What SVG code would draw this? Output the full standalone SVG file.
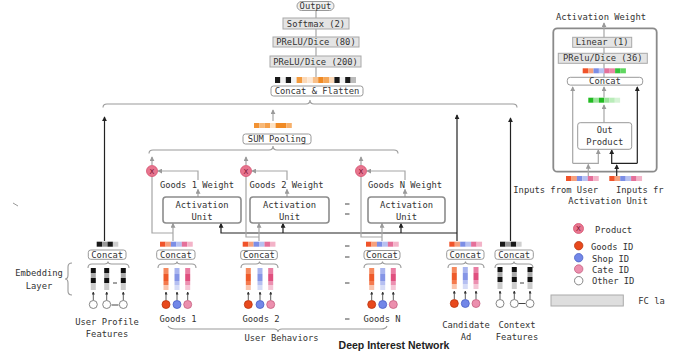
<svg xmlns="http://www.w3.org/2000/svg" width="689" height="352" viewBox="0 0 689 352">
<style>
.t{font-family:"DejaVu Sans Mono","Liberation Mono",monospace;font-size:8.8px;fill:#333}
.c{text-anchor:middle}
.fc{fill:#e4e4e4;stroke:#a8a8a8;stroke-width:1}
.cb{fill:#fff;stroke:#999;stroke-width:1}
.au{fill:#fff;stroke:#8c8c8c;stroke-width:1.6}
.g{fill:none;stroke:#a6a6a6;stroke-width:1.2}
.k{fill:none;stroke:#222;stroke-width:1.2}
.br{fill:none;stroke:#9a9a9a;stroke-width:1.1}
.tiny{stroke:#333;stroke-width:0.8}
.dash{stroke:#444;stroke-width:1}
.px{fill:#e8758f;stroke:#d4506f;stroke-width:0.8}
.xt{font-family:"DejaVu Sans",sans-serif;font-size:7px;fill:#7a1030;text-anchor:middle}
</style>
<defs>
<marker id="ag" viewBox="0 0 6 6" refX="5" refY="3" markerWidth="5" markerHeight="5" markerUnits="userSpaceOnUse" orient="auto"><path d="M0,0L6,3L0,6z" fill="#9a9a9a"/></marker>
<marker id="ab" viewBox="0 0 6 6" refX="5" refY="3" markerWidth="5" markerHeight="5" markerUnits="userSpaceOnUse" orient="auto"><path d="M0,0L6,3L0,6z" fill="#222"/></marker>
<marker id="at" viewBox="0 0 6 6" refX="5" refY="3" markerWidth="3" markerHeight="3" markerUnits="userSpaceOnUse" orient="auto"><path d="M0,0L6,3L0,6z" fill="#333"/></marker>
<g id="colO"><rect x="-2.5" y="0" width="5" height="6" fill="#f58a5f"/><rect x="-2.5" y="6" width="5" height="7" fill="#ee5a2a"/><rect x="-2.5" y="13" width="5" height="4" fill="#f47a4e"/><rect x="-2.5" y="17" width="5" height="5" fill="#fac4ad"/></g>
<g id="colB"><rect x="-2.5" y="0" width="5" height="6" fill="#a9b5ef"/><rect x="-2.5" y="6" width="5" height="7" fill="#8595e6"/><rect x="-2.5" y="13" width="5" height="4" fill="#b5bff1"/><rect x="-2.5" y="17" width="5" height="5" fill="#d6dcf7"/></g>
<g id="colP"><rect x="-2.5" y="0" width="5" height="6" fill="#ea7ea3"/><rect x="-2.5" y="6" width="5" height="7" fill="#e0507f"/><rect x="-2.5" y="13" width="5" height="4" fill="#ec8fb0"/><rect x="-2.5" y="17" width="5" height="5" fill="#f5c6d6"/></g>
<g id="colK"><rect x="-2.5" y="0" width="5" height="5" fill="#111"/><rect x="-2.5" y="5" width="5" height="5" fill="#aaa"/><rect x="-2.5" y="10" width="5" height="5" fill="#111"/><rect x="-2.5" y="15" width="5" height="7" fill="#ccc"/></g>
<g id="nO"><use href="#colO"/><line x1="0" y1="32.5" x2="0" y2="24" class="tiny" marker-end="url(#at)"/><circle cy="36.5" r="4" fill="#e8491d" stroke="#b8350f" stroke-width="0.8"/></g>
<g id="nB"><use href="#colB"/><line x1="0" y1="32.5" x2="0" y2="24" class="tiny" marker-end="url(#at)"/><circle cy="36.5" r="4" fill="#7287e8" stroke="#4a5fc4" stroke-width="0.8"/></g>
<g id="nP"><use href="#colP"/><line x1="0" y1="32.5" x2="0" y2="24" class="tiny" marker-end="url(#at)"/><circle cy="36.5" r="4" fill="#ec8fae" stroke="#c4607f" stroke-width="0.8"/></g>
<g id="nK"><use href="#colK"/><line x1="0" y1="32.5" x2="0" y2="24" class="tiny" marker-end="url(#at)"/><circle cy="36.5" r="4" fill="#fff" stroke="#777" stroke-width="0.9"/></g>
<g id="barG"><rect x="0" y="0" width="5.5" height="5" fill="#f0532a"/><rect x="5.45" y="0" width="5.5" height="5" fill="#f6a07c"/><rect x="10.9" y="0" width="5.5" height="5" fill="#7c8ee6"/><rect x="16.35" y="0" width="5.5" height="5" fill="#b7c1f1"/><rect x="21.8" y="0" width="5.5" height="5" fill="#e5709a"/><rect x="27.25" y="0" width="5.5" height="5" fill="#f3b3c8"/></g>
<g id="barK"><rect x="0" y="0" width="5.4" height="5" fill="#1a1a1a"/><rect x="5.4" y="0" width="5.4" height="5" fill="#9a9a9a"/><rect x="10.8" y="0" width="5.4" height="5" fill="#1a1a1a"/><rect x="16.2" y="0" width="5.4" height="5" fill="#cfcfcf"/></g>
</defs>
<rect width="689" height="352" fill="#fff"/>

<g id="connectors">
<line x1="316" y1="10" x2="316" y2="78" class="g"/>
<path class="br" d="M103,107.5Q103,104 107,104L306,104Q310,104 310,100Q310,104 314,104L513,104Q517,104 517,107.5"/>
<path class="br" d="M149,153.5Q149,150 153,150L269,150Q273,150 273,146Q273,150 277,150L394,150Q398,150 398,153.5"/>
<path class="g" d="M273,121V110" marker-end="url(#ag)"/>
<path class="k" d="M104.5,241V117" marker-end="url(#ab)"/>
<path class="k" d="M457,241V115" marker-end="url(#ab)"/>
<path class="k" d="M510.5,241V118" marker-end="url(#ab)"/>
<path class="k" d="M457,233H221V223.5" marker-end="url(#ab)"/>
<path class="k" d="M283,233V223.5" marker-end="url(#ab)"/>
<path class="k" d="M401,233V223.5" marker-end="url(#ab)"/>
<path class="g" d="M152,165V157" marker-end="url(#ag)"/>
<path class="g" d="M246,165V157" marker-end="url(#ag)"/>
<path class="g" d="M361,165V157" marker-end="url(#ag)"/>
<path class="g" d="M198,197V189.5" marker-end="url(#ag)"/>
<path class="g" d="M198,180V171H158" marker-end="url(#ag)"/>
<path class="g" d="M287,197V189.5" marker-end="url(#ag)"/>
<path class="g" d="M287,180V171H252" marker-end="url(#ag)"/>
<path class="g" d="M405,197V189.5" marker-end="url(#ag)"/>
<path class="g" d="M405,180V171H367" marker-end="url(#ag)"/>
<path class="g" d="M173,241V223.5" marker-end="url(#ag)"/>
<path class="g" d="M152,176V233H173"/>
<path class="g" d="M259,241V223.5" marker-end="url(#ag)"/>
<path class="g" d="M246,176V237H259"/>
<path class="g" d="M382,241V223.5" marker-end="url(#ag)"/>
<path class="g" d="M361,176V237H382"/>
<path class="br" d="M168,326Q170,329 175,329L274,329Q278,329 278,332Q278,329 282,329L381,329Q386,329 387,326"/>
<path class="br" d="M72,263Q68,263 68,267L68,275Q68,279 65,279Q68,279 68,283L68,291Q68,295 72,295"/>
<line x1="13" y1="203" x2="18" y2="206" stroke="#999" stroke-width="1"/>
</g>

<g id="output"><rect x="297" y="1.5" width="37" height="9" rx="4.5" fill="#efefef" stroke="#999"/><text class="t c" x="315.5" y="9">Output</text></g>
<g id="softmax"><rect x="283" y="18" width="66" height="11" class="fc"/><text class="t c" x="316" y="26.7">Softmax (2)</text></g>
<g id="prelu80"><rect x="273" y="37" width="86" height="10" class="fc"/><text class="t c" x="316" y="45.2">PReLU/Dice (80)</text></g>
<g id="prelu200"><rect x="270" y="56" width="91" height="11" class="fc"/><text class="t c" x="315.5" y="64.7">PReLU/Dice (200)</text></g>
<g id="concat-flatten">
<rect x="275" y="77" width="5.4" height="6" fill="#1a1a1a"/><rect x="280.4" y="77" width="5.4" height="6" fill="#f2f2f2"/><rect x="285.8" y="77" width="5.4" height="6" fill="#1a1a1a"/><rect x="291.2" y="77" width="5.4" height="6" fill="#f4f4f4"/><rect x="296.6" y="77" width="5.4" height="6" fill="#f39a3c"/><rect x="302" y="77" width="5.4" height="6" fill="#fbd9b8"/><rect x="307.4" y="77" width="5.4" height="6" fill="#fde8d4"/><rect x="312.8" y="77" width="5.4" height="6" fill="#f8c08a"/><rect x="318.2" y="77" width="5.4" height="6" fill="#f08a24"/><rect x="323.6" y="77" width="5.4" height="6" fill="#f5a85a"/><rect x="329" y="77" width="5.4" height="6" fill="#fbd9b8"/><rect x="334.4" y="77" width="5.4" height="6" fill="#1a1a1a"/><rect x="339.8" y="77" width="5.4" height="6" fill="#f2f2f2"/><rect x="345.2" y="77" width="5.4" height="6" fill="#1a1a1a"/><rect x="350.6" y="77" width="5.4" height="6" fill="#bbb"/>
<rect x="271" y="86" width="92" height="10" rx="2.5" class="cb"/><text class="t c" x="317" y="94.2">Concat &amp; Flatten</text></g>
<g id="sum-pooling">
<rect x="254" y="123" width="5.4" height="5" fill="#f29233"/><rect x="259.4" y="123" width="5.4" height="5" fill="#f7b877"/><rect x="264.8" y="123" width="5.4" height="5" fill="#f5a04a"/><rect x="270.2" y="123" width="5.4" height="5" fill="#fde2c4"/><rect x="275.6" y="123" width="5.4" height="5" fill="#f08a24"/><rect x="281" y="123" width="5.4" height="5" fill="#f08a24"/><rect x="286.4" y="123" width="5.4" height="5" fill="#f7b06a"/>
<rect x="243" y="134" width="68" height="10" rx="2.5" class="cb"/><text class="t c" x="277" y="142.2">SUM Pooling</text></g>

<g id="product1"><circle cx="152" cy="171" r="5.5" class="px"/><text class="xt" x="152" y="173.5">X</text></g>
<g id="product2"><circle cx="246" cy="171" r="5.5" class="px"/><text class="xt" x="246" y="173.5">X</text></g>
<g id="productN"><circle cx="361" cy="171" r="5.5" class="px"/><text class="xt" x="361" y="173.5">X</text></g>
<g id="weight-labels">
<text class="t c" x="197" y="188.2">Goods 1 Weight</text>
<text class="t c" x="286.5" y="188.2">Goods 2 Weight</text>
<text class="t c" x="405" y="188.2">Goods N Weight</text>
</g>
<g id="au1"><rect x="163" y="197" width="78" height="26" rx="3" class="au"/><text class="t c" x="202" y="208">Activation</text><text class="t c" x="202" y="220">Unit</text></g>
<g id="au2"><rect x="250" y="197" width="79" height="26" rx="3" class="au"/><text class="t c" x="289.5" y="208">Activation</text><text class="t c" x="289.5" y="220">Unit</text></g>
<g id="auN"><rect x="368" y="197" width="77" height="26" rx="3" class="au"/><text class="t c" x="406.5" y="208">Activation</text><text class="t c" x="406.5" y="220">Unit</text></g>

<g id="ellipsis">
<line x1="345" y1="204" x2="349.5" y2="204" class="dash"/><line x1="345" y1="214" x2="349.5" y2="214" class="dash"/>
<line x1="345" y1="246" x2="349.5" y2="246" class="dash"/><line x1="345" y1="257" x2="349.5" y2="257" class="dash"/>
<line x1="345" y1="283" x2="349.5" y2="283" class="dash"/><line x1="345" y1="319" x2="349.5" y2="319" class="dash"/>
</g>

<g id="emb-layer-label"><text class="t c" x="39" y="276">Embedding</text><text class="t c" x="39" y="288.5">Layer</text></g>

<g id="user-profile">
<use href="#barK" x="96.7" y="241.7"/>
<rect x="88.3" y="250" width="37.7" height="9.3" rx="2.5" class="cb"/><text class="t c" x="107.2" y="257.8">Concat</text>
<path class="br" d="M88,268Q88,264 92,264L104.5,264Q108,264 108,261.5Q108,264 111.5,264L125,264Q129,264 129,268"/>
<use href="#nK" x="93.3" y="268"/><use href="#nK" x="106.7" y="268"/><use href="#nK" x="123.3" y="268"/>
<line x1="113" y1="283" x2="117" y2="283" class="dash"/><line x1="111.5" y1="305" x2="118.5" y2="305" class="dash"/>
<text class="t c" x="107" y="324.5">User Profile</text><text class="t c" x="107" y="336.8">Features</text>
</g>

<g id="goods1">
<use href="#barG" x="160" y="241.7"/>
<rect x="156.7" y="250" width="38.3" height="9.3" rx="2.5" class="cb"/><text class="t c" x="175.8" y="257.8">Concat</text>
<path class="br" d="M158,268Q158,264 162,264L173.5,264Q177,264 177,261.5Q177,264 180.5,264L192,264Q196,264 196,268"/>
<use href="#nO" x="166" y="268"/><use href="#nB" x="177" y="268"/><use href="#nP" x="187.7" y="268"/>
<text class="t c" x="178" y="322.3">Goods 1</text>
</g>
<g id="goods2">
<use href="#barG" x="242.7" y="241.7"/>
<rect x="240.7" y="250.5" width="36.6" height="9" rx="2.5" class="cb"/><text class="t c" x="259" y="258">Concat</text>
<path class="br" d="M241,268Q241,264 245,264L256,264Q259.5,264 259.5,261.5Q259.5,264 263,264L274,264Q278,264 278,268"/>
<use href="#nO" x="248.3" y="268"/><use href="#nB" x="260" y="268"/><use href="#nP" x="270.7" y="268"/>
<text class="t c" x="261" y="322.3">Goods 2</text>
</g>
<g id="goodsN">
<use href="#barG" x="366" y="241.7"/>
<rect x="364" y="250.5" width="36" height="9" rx="2.5" class="cb"/><text class="t c" x="382" y="258">Concat</text>
<path class="br" d="M364,268Q364,264 368,264L379,264Q382.5,264 382.5,261.5Q382.5,264 386,264L397,264Q401,264 401,268"/>
<use href="#nO" x="371.7" y="268"/><use href="#nB" x="382.7" y="268"/><use href="#nP" x="393.3" y="268"/>
<text class="t c" x="382" y="322.3">Goods N</text>
</g>
<text id="user-behaviors" class="t c" x="281.5" y="340.5">User Behaviors</text>

<g id="candidate-ad">
<use href="#barG" x="449.3" y="241.7"/>
<rect x="446.7" y="250" width="37.3" height="9.3" rx="2.5" class="cb"/><text class="t c" x="465.3" y="257.8">Concat</text>
<path class="br" d="M448,268Q448,264 452,264L462,264Q465.5,264 465.5,261.5Q465.5,264 469,264L480,264Q484,264 484,268"/>
<use href="#nO" x="454.3" y="267"/><use href="#nB" x="465.3" y="267"/><use href="#nP" x="476" y="267"/>
<text class="t c" x="466" y="328.2">Candidate</text><text class="t c" x="466" y="340">Ad</text>
</g>
<g id="context-features">
<use href="#barK" x="500" y="241.7"/>
<rect x="495" y="250" width="38.3" height="9.3" rx="2.5" class="cb"/><text class="t c" x="514.2" y="257.8">Concat</text>
<path class="br" d="M495,268Q495,264 499,264L510.5,264Q514,264 514,261.5Q514,264 517.5,264L529,264Q533,264 533,268"/>
<use href="#nK" x="500" y="267"/><use href="#nK" x="514.3" y="267"/><use href="#nK" x="530" y="267"/>
<line x1="520" y1="283" x2="524" y2="283" class="dash"/><line x1="518.5" y1="303.5" x2="525.5" y2="303.5" class="dash"/>
<text class="t c" x="517" y="328.2">Context</text><text class="t c" x="517" y="340">Features</text>
</g>

<g id="legend">
<circle cx="578.5" cy="228.5" r="5" class="px"/><text class="xt" x="578.5" y="231">X</text><text class="t" x="595" y="233.2">Product</text>
<circle cx="578.7" cy="245.7" r="4.2" fill="#e8491d" stroke="#b8350f" stroke-width="0.8"/><text class="t" x="591" y="249.8">Goods ID</text>
<circle cx="578.7" cy="257.7" r="4.2" fill="#7287e8" stroke="#4a5fc4" stroke-width="0.8"/><text class="t" x="592" y="262.3">Shop ID</text>
<circle cx="578.7" cy="269" r="4.2" fill="#ec8fae" stroke="#c4607f" stroke-width="0.8"/><text class="t" x="592" y="273.3">Cate ID</text>
<circle cx="578.7" cy="280.7" r="4.2" fill="#fff" stroke="#777" stroke-width="0.9"/><text class="t" x="592" y="284.3">Other ID</text>
<rect x="551" y="295" width="72.3" height="11" fill="#dedede" stroke="#aaa"/><text class="t" x="638.3" y="304">FC la</text>
</g>

<g id="au-detail">
<text class="t c" x="601" y="20.3">Activation Weight</text>
<rect x="553.3" y="28.3" width="103.4" height="143.4" rx="4" fill="none" stroke="#8a8a8a" stroke-width="1.8"/>
<g id="au-connectors">
<path class="g" d="M604,77V23" marker-end="url(#ag)"/>
<path class="g" d="M604,97.5V87" marker-end="url(#ag)"/>
<path class="g" d="M604,122.5V105" marker-end="url(#ag)"/>
<path class="g" d="M572.7,163.3V87" marker-end="url(#ag)"/>
<path class="g" d="M572.7,163.3H598.3V150" marker-end="url(#ag)"/>
<path class="g" d="M588.3,176V164.5" marker-end="url(#ag)"/>
<path class="k" d="M637.3,163.3V87" marker-end="url(#ab)"/>
<path class="k" d="M637.3,163.3H611.7V150" marker-end="url(#ab)"/>
<path class="k" d="M616.7,176V165" marker-end="url(#ab)"/>
</g>
<g id="au-linear"><rect x="572.7" y="37.3" width="59" height="10" class="fc"/><text class="t c" x="602.2" y="45.4">Linear (1)</text></g>
<g id="au-prelu"><rect x="558.3" y="53.3" width="89" height="10" class="fc"/><text class="t c" x="602.8" y="61.4">PRelu/Dice (36)</text></g>
<g id="au-concatbar"><rect x="582.7" y="68.3" width="5.4" height="5" fill="#f0532a"/><rect x="588.1" y="68.3" width="5.4" height="5" fill="#f6a07c"/><rect x="593.5" y="68.3" width="5.4" height="5" fill="#7c8ee6"/><rect x="598.9" y="68.3" width="5.4" height="5" fill="#b7c1f1"/><rect x="604.3" y="68.3" width="5.4" height="5" fill="#e5709a"/><rect x="609.7" y="68.3" width="5.4" height="5" fill="#ea88a8"/><rect x="615.1" y="68.3" width="5.4" height="5" fill="#33c23a"/><rect x="620.5" y="68.3" width="5.4" height="5" fill="#5fd660"/></g>
<g id="au-concat"><rect x="567.3" y="77.3" width="75.4" height="7.8" rx="3" class="cb"/><text class="t c" x="605" y="84">Concat</text></g>
<g id="au-greenbar"><rect x="588.3" y="97.7" width="5.3" height="5" fill="#22bb22"/><rect x="593.6" y="97.7" width="5.3" height="5" fill="#9be39b"/><rect x="598.9" y="97.7" width="5.3" height="5" fill="#22bb22"/><rect x="604.2" y="97.7" width="5.3" height="5" fill="#9be39b"/><rect x="609.5" y="97.7" width="5.3" height="5" fill="#b9ecb9"/><rect x="614.8" y="97.7" width="5.3" height="5" fill="#d6f3d6"/></g>
<g id="au-outproduct"><rect x="577.7" y="122.7" width="54" height="26.6" rx="2.5" fill="#fff" stroke="#999"/><text class="t c" x="604.7" y="133.2">Out</text><text class="t c" x="604.7" y="145.3">Product</text></g>
<use href="#barG" x="566" y="176"/>
<use href="#barG" x="609.3" y="176"/>
<text class="t" x="513.3" y="193.3">Inputs from User</text>
<text class="t" x="616" y="193.3">Inputs fr</text>
<text class="t" x="568.3" y="204">Activation Unit</text>
</g>

<text id="title" x="394" y="349" text-anchor="middle" font-family="Liberation Sans, Arial, sans-serif" font-weight="bold" font-size="10.5" fill="#222">Deep Interest Network</text>
</svg>
